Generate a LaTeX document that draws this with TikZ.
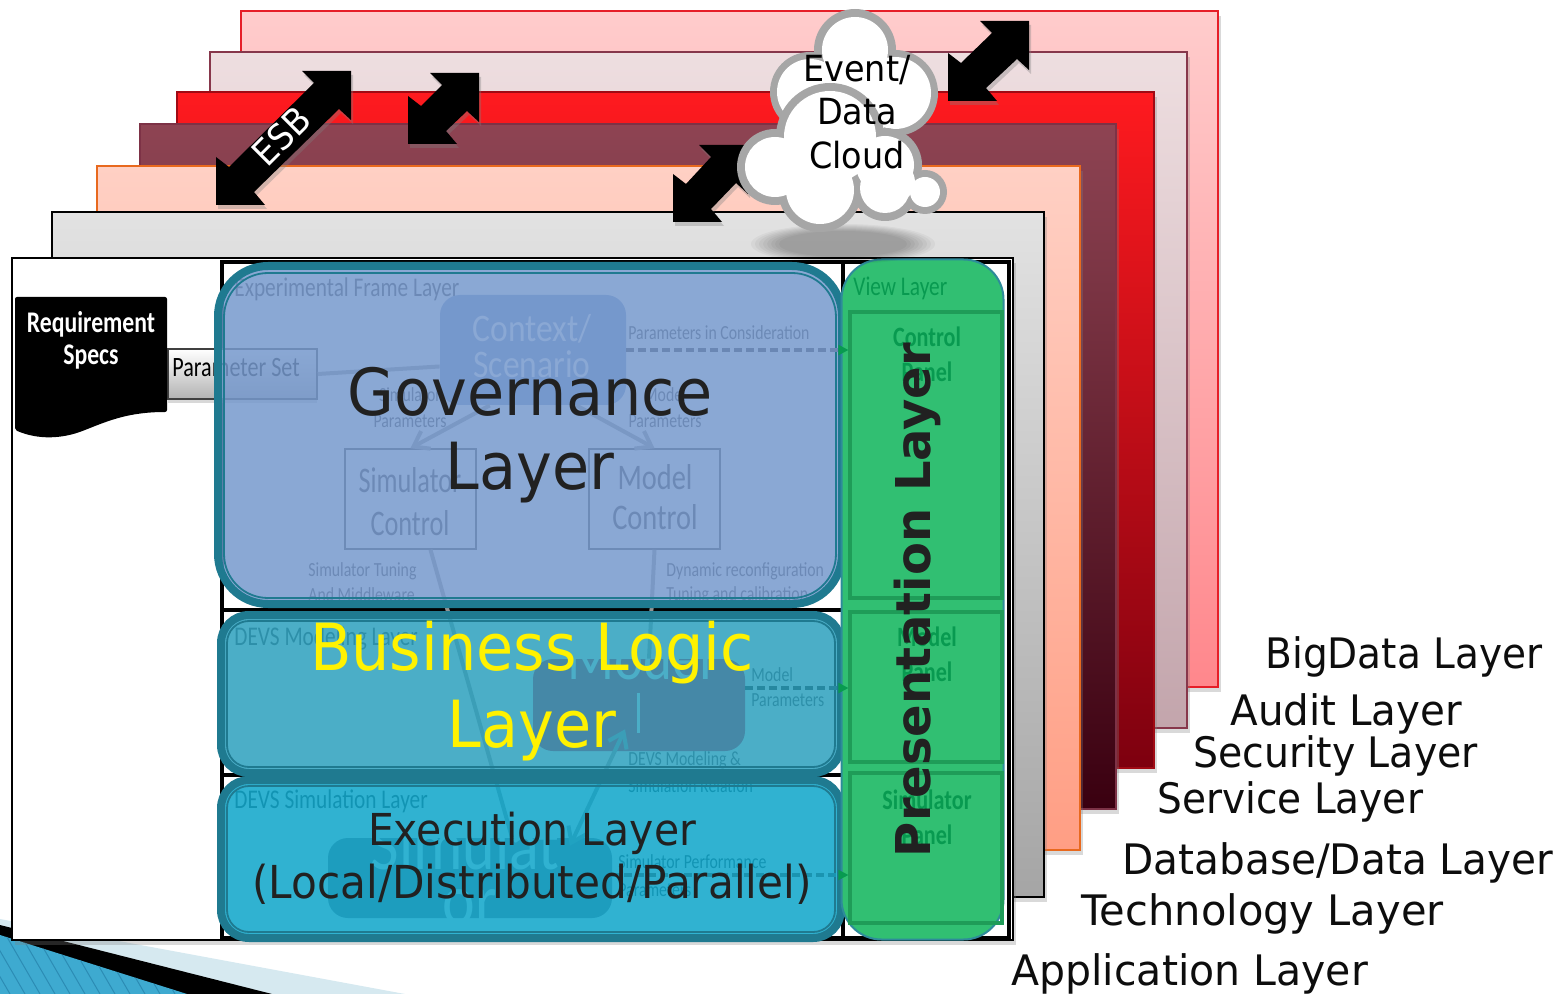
\documentclass[tikz,border=0pt]{standalone}
\usepackage{graphicx}
\usepackage{fontspec}
\usetikzlibrary{arrows.meta,shadows,calc}
\setmainfont{DejaVu Sans}
\newfontfamily\lbl[FakeStretch=0.93]{DejaVu Sans}
\newfontfamily\carl[FakeStretch=0.86]{Carlito}
\newfontfamily\carlc[FakeStretch=0.79]{Carlito}
\newfontfamily\carld[FakeStretch=0.73]{Carlito}
\newcommand{\carlb}{\carlc\bfseries}
\newcommand{\fsz}[1]{\fontsize{#1}{#1}\selectfont}
\definecolor{teal1}{HTML}{1F7A90}
\definecolor{greenfill}{HTML}{31BF72}
\definecolor{panelline}{HTML}{1F9C58}
\definecolor{paneltext}{HTML}{089A50}
\definecolor{presline}{HTML}{2E8B9A}
\definecolor{lbandc}{HTML}{D6E9F0}
\definecolor{bluec}{HTML}{3EAAD0}
\definecolor{stripec}{HTML}{2C8CB4}
\definecolor{l1d}{HTML}{E61E28}\definecolor{l1t}{HTML}{FFCCCC}\definecolor{l1b}{HTML}{FF878C}
\definecolor{l2d}{HTML}{87374B}\definecolor{l2t}{HTML}{EEDEE0}\definecolor{l2b}{HTML}{C3A5AC}
\definecolor{l3d}{HTML}{A00A14}\definecolor{l3t}{HTML}{FF1A1F}\definecolor{l3b}{HTML}{7D000F}
\definecolor{l4d}{HTML}{7D3246}\definecolor{l4t}{HTML}{8E4453}\definecolor{l4b}{HTML}{3A0010}
\definecolor{l5d}{HTML}{E8691E}\definecolor{l5t}{HTML}{FFD0C4}\definecolor{l5b}{HTML}{FF9E84}
\definecolor{l6t}{HTML}{E2E2E2}\definecolor{l6b}{HTML}{A5A5A5}
\definecolor{ctxc}{HTML}{7394CA}
\definecolor{modc}{HTML}{D7022A}
\definecolor{simc}{HTML}{807380}
\definecolor{govf}{HTML}{7699CD}
\definecolor{busf}{HTML}{2CA0BE}
\definecolor{exef}{HTML}{0CA5CA}
\definecolor{dasha}{HTML}{6A87B4}
\definecolor{dashb}{HTML}{2688A0}
\definecolor{dashc}{HTML}{1A94B0}
\tikzset{
  layer/.style={draw=#1,line width=0.9pt,drop shadow={opacity=.3,shadow xshift=1.5pt,shadow yshift=-2.5pt}},
  big/.style={font=\lbl\fsz{32.5},text=black!87,inner sep=0pt,anchor=center},
  side/.style={font=\lbl\fsz{21},text=black!95,inner sep=0pt,anchor=west},
  cloudt/.style={font=\lbl\fsz{18},text=black,inner sep=0pt},
  mini/.style={font=\carlc\fsz{10},text=black!80,inner sep=0pt,anchor=west},
  undert/.style={font=\carlc\fsz{13.5},text=black!80,inner sep=0pt,anchor=west},
  bx/.style={draw=black!75,line width=.8pt,inner sep=0pt},
  conn/.style={draw=black!42,line width=2pt},
  dashl/.style={line width=2pt,dash pattern=on 4pt off 2pt},
  tip/.style={draw=paneltext,line width=1pt,-{Triangle[length=5pt,width=5pt]}},
  panel/.style={draw=panelline,line width=1.6pt,inner sep=0pt,minimum width=76pt},
  ptext/.style={font=\carlb\fsz{14},text=paneltext,inner sep=0pt},
  overlay box/.style={fill=#1,fill opacity=.85,draw=teal1,line width=4pt},
  inner line/.style={draw=teal1,line width=.9pt},
  blackarrow/.style={fill=black,drop shadow={opacity=.35,shadow xshift=1pt,shadow yshift=-2pt}},
}
\newcommand{\dblarrow}[4]{% bx,by,tx,ty
  \path[blackarrow] (#3,#4) -- (#3-49,#4) -- (#3-37,#4+12) -- (#1+13,#2-38) -- (#1,#2-48) -- (#1,#2)
   -- (#1+49,#2) -- (#1+38,#2-13) -- (#3-12,#4+38) -- (#3,#4+49) -- cycle;}
\begin{document}
\begin{tikzpicture}[x=0.5pt,y=-0.5pt]
\useasboundingbox (0,0) rectangle (1568,994);
\clip (0,0) rectangle (1568,994);
% corner decoration
\fill[lbandc] (0,919) -- (405,994) -- (0,994) -- cycle;
\fill[black] (0,925) -- (272,994) -- (0,994) -- cycle;
\fill[bluec] (0,935) -- (187,994) -- (0,994) -- cycle;
\begin{scope}
\clip (0,935) -- (187,994) -- (0,994) -- cycle;
\foreach \k in {-3,...,17} \draw[stripec,line width=.5pt] (\k*15,925) -- (\k*15+40,994);
\end{scope}
% stacked layers
\path[layer=l1d,top color=l1t,bottom color=l1b] (241,11) rectangle (1218,687);
\path[layer=l2d,top color=l2t,bottom color=l2b] (210,52) rectangle (1187,728);
\path[layer=l3d,top color=l3t,bottom color=l3b] (177,92) rectangle (1154,768);
\path[layer=l4d,top color=l4t,bottom color=l4b] (140,124) rectangle (1116,809);
\path[layer=l5d,top color=l5t,bottom color=l5b] (97,166) rectangle (1080,850);
\path[layer=black,top color=l6t,bottom color=l6b] (52,212) rectangle (1044,897);
% ESB arrows
\dblarrow{216}{205}{351}{71}
\dblarrow{408}{144}{479}{73}
\dblarrow{673}{222}{748}{145}
\dblarrow{948}{101}{1029}{21}
\node[font=\lbl\fsz{18},text=white,rotate=45,inner sep=0pt] (esb) at (281,136) {ESB};
% application layer
\path[layer=black,fill=white] (12,258) rectangle (1013,940);
\draw[black,line width=1.6pt] (222,262) rectangle (1009,938);
\draw[black,line width=1.6pt] (222,610) -- (843,610) (222,775) -- (843,775) (843,262) -- (843,938);
% content beneath the overlays
\node[bx,top color=white,bottom color=black!30,minimum width=74.5pt,minimum height=25pt,drop shadow={opacity=.3,shadow xshift=0pt,shadow yshift=-2pt}] (pset) at (242.5,374) {};
\node[font=\carlc\fsz{14},text=black,inner sep=0pt,anchor=west] (psettext) at (172,368) {Parameter Set};
\node[undert] (eflayer) at (234,289) {Experimental Frame Layer};
\node[fill=ctxc,rounded corners=10pt,minimum width=93pt,minimum height=55pt,inner sep=0pt] (context) at (533,350) {};
\node[font=\carl\fsz{19.5},text=white,inner sep=0pt] (ctxa) at (532,329) {Context/};
\node[font=\carl\fsz{19.5},text=white,inner sep=0pt] (ctxb) at (532,364) {Scenario};
\node[bx,minimum width=65.5pt,minimum height=50pt] (simctl) at (410.5,499) {};
\node[bx,minimum width=65.5pt,minimum height=50pt] (modctl) at (654.5,499) {};
\node[font=\carld\fsz{18},text=black!80,inner sep=0pt] (sc1) at (410,480) {Simulator};
\node[font=\carld\fsz{18},text=black!80,inner sep=0pt] (sc2) at (410,523) {Control};
\node[font=\carlc\fsz{18},text=black!80,inner sep=0pt] (mc1) at (655,477) {Model};
\node[font=\carlc\fsz{18},text=black!80,inner sep=0pt] (mc2) at (655,517) {Control};
\node[mini] (pic) at (628,333) {Parameters in Consideration};
\node[mini,anchor=center] (sp1) at (410,395) {Simulator};
\node[mini,anchor=center] (sp2) at (410,421) {Parameters};
\node[mini,anchor=center] (mp1) at (665,395) {Model};
\node[mini,anchor=center] (mp2) at (665,421) {Parameters};
\node[mini] (st1) at (308,571) {Simulator Tuning};
\node[mini] (st2) at (308,595) {And Middleware};
\node[mini] (dr1) at (666,571) {Dynamic reconfiguration};
\node[mini] (dr2) at (666,595) {Tuning and calibration};
\draw[conn] (pset.east) -- (context.190);
\draw[conn,-{Straight Barb[length=7pt,width=10pt]}] (context.232) -- (simctl.north);
\draw[conn,-{Straight Barb[length=7pt,width=10pt]}] (context.-52) -- (modctl.north);
\node[undert] (devsm) at (234,638) {DEVS Modeling Layer};
\node[fill=modc,rounded corners=10pt,minimum width=106pt,minimum height=46pt,inner sep=0pt] (modelbox) at (639,705) {};
\node[font=\carl\fsz{32},text=white,inner sep=0pt] (modeltext) at (640,657) {Model};
\fill[white] (637,693) rectangle (640,733);
\node[mini] (mpa) at (751,675) {Model};
\node[mini] (mpb) at (751,700) {Parameters};
\node[mini] (dm1) at (628,760) {DEVS Modeling \&};
\node[mini] (dm2) at (628,786) {Simulation Relation};
\node[undert] (devss) at (234,801) {DEVS Simulation Layer};
\node[fill=simc,rounded corners=10pt,minimum width=142pt,minimum height=40pt,inner sep=0pt] (simnode) at (470,878) {};
\node[font=\carl\fsz{36},text=white,inner sep=0pt] (sn1) at (465,845) {Simulat};
\node[font=\carl\fsz{36},text=white,inner sep=0pt] (sn2) at (470,907) {or};
\node[mini] (sp3) at (618,862) {Simulator Performance};
\node[mini] (sp4) at (618,890) {Parameters};
\draw[conn] ([xshift=10pt]simctl.south) -- ([xshift=21pt]simnode.north);
\draw[conn] (modctl.south) -- ([xshift=5pt]modelbox.north);
\draw[conn,{Straight Barb[length=7pt,width=10pt]}-{Straight Barb[length=7pt,width=10pt]}] ([xshift=50pt,yshift=-4pt]simnode.north) -- ([yshift=11pt,xshift=-7pt]modelbox.south);
% overlays
\path[overlay box=govf,rounded corners=25pt] (218,266) rectangle (842,604);
\draw[inner line,rounded corners=22pt] (224,273) rectangle (836,598);
\path[overlay box=busf,rounded corners=14pt] (221,615) rectangle (841,773);
\draw[inner line,rounded corners=11pt] (227,621) rectangle (835,767);
\path[overlay box=exef,rounded corners=14pt] (221,780) rectangle (841,938);
\draw[inner line,rounded corners=11pt] (227,786) rectangle (835,932);
% dashed links run to the panels
\node[rounded corners=20pt,fill=greenfill,draw=presline,line width=1pt,minimum width=81pt,minimum height=340pt,inner sep=0pt] (pres) at (922.5,599.5) {};
\node[panel,minimum height=143pt] (cpanel) at (926,455) {};
\node[panel,minimum height=75pt] (mpanel) at (926,687) {};
\node[panel,minimum height=75pt] (spanel) at (926,848) {};
\node[font=\carlc\fsz{13.5},text=paneltext,inner sep=0pt,anchor=west] (viewl) at (853,288) {View Layer};
\node[ptext] (cp1) at (927,337) {Control};
\node[ptext] (cp2) at (927,372) {Panel};
\node[ptext] (mp3) at (927,637) {Model};
\node[ptext] (mp4) at (927,672) {Panel};
\node[ptext] (sp5) at (927,800) {Simulator};
\node[ptext] (sp6) at (927,835) {Panel};
\draw[dashl,dasha] (context.east) -- (context.east -| pres.west);
\draw[tip] ([xshift=-1pt]context.east -| pres.west) -- (context.east -| cpanel.west);
\coordinate (mdash) at ([yshift=8.5pt]modelbox.east);
\draw[dashl,dashb] (mdash) -- (mdash -| pres.west);
\draw[tip] ([xshift=-1pt]mdash -| pres.west) -- (mdash -| mpanel.west);
\coordinate (sdash) at ([yshift=1.5pt]simnode.east);
\draw[dashl,dashc] (sdash) -- (sdash -| pres.west);
\draw[tip] ([xshift=-1pt]sdash -| pres.west) -- (sdash -| spanel.west);
% requirement document
\fill[black,rounded corners=1pt] (15,297) -- (167,297) -- (167,412) .. controls (130,412) and (110,420) .. (85,430) .. controls (62,439) and (38,440) .. (15,430) -- cycle;
\node[font=\carlb\fsz{15},text=white,inner sep=0pt] (req1) at (91,324) {Requirement};
\node[font=\carlb\fsz{15},text=white,inner sep=0pt] (req2) at (91,357) {Specs};
% big labels
\node[big] (gov1) at (530,392) {Governance};
\node[big] (gov2) at (530,473) {Layer};
\node[big,text=yellow] (bus1) at (532,653) {Business Logic};
\node[big,text=yellow] (bus2) at (532,731) {Layer};
\node[big,font=\lbl\fsz{22}] (exe1) at (532,833) {Execution Layer};
\node[big,font=\lbl\fsz{22.7}] (exe2) at (532,884) {(Local/Distributed/Parallel)};
\node[big,font=\bfseries\fsz{24},rotate=90] (presl) at (917,600) {Presentation Layer};
% cloud
\foreach \rr/\ss in {92/20,88/19,84/18,80/17,76/16,72/15,68/14,64/13} \fill[black,opacity=.04] (843,244) ellipse [x radius=\rr, y radius=\ss];
\fill[black!35] (855,50) circle [radius=41] (810,92) circle [radius=40] (895,93) circle [radius=43] (850,110) circle [radius=45];
\fill[white] (855,50) circle [radius=33] (810,92) circle [radius=33] (895,93) circle [radius=36] (850,110) circle [radius=38];
\fill[black!35] (830,137) circle [radius=54] (775,167) circle [radius=38] (820,190) circle [radius=42] (885,165) circle [radius=37] (885,188) circle [radius=33] (925,192) circle [radius=22];
\fill[white] (830,137) circle [radius=46] (775,167) circle [radius=30] (820,190) circle [radius=34] (885,165) circle [radius=29] (885,188) circle [radius=25] (925,192) circle [radius=15];
\fill[white] (895,182) circle [radius=20];
\node[cloudt] (ev) at (857,70) {Event/};
\node[cloudt] (dat) at (857,112) {Data};
\node[cloudt] (clo) at (857,155) {Cloud};
% side labels
\node[side] (s1) at (1265,657) {BigData Layer};
\node[side] (s2) at (1230,714) {\scalebox{1.035}[1]{Audit Layer}};
\node[side] (s3) at (1193,756) {\scalebox{1.01}[1]{Security Layer}};
\node[side] (s4) at (1157,802) {Service Layer};
\node[side] (s5) at (1122,863) {\scalebox{1.04}[1]{Database/Data Layer}};
\node[side] (s6) at (1081,914) {\scalebox{1.065}[1]{Technology Layer}};
\node[side] (s7) at (1011,974) {\scalebox{1.05}[1]{Application Layer}};
\end{tikzpicture}
\end{document}
